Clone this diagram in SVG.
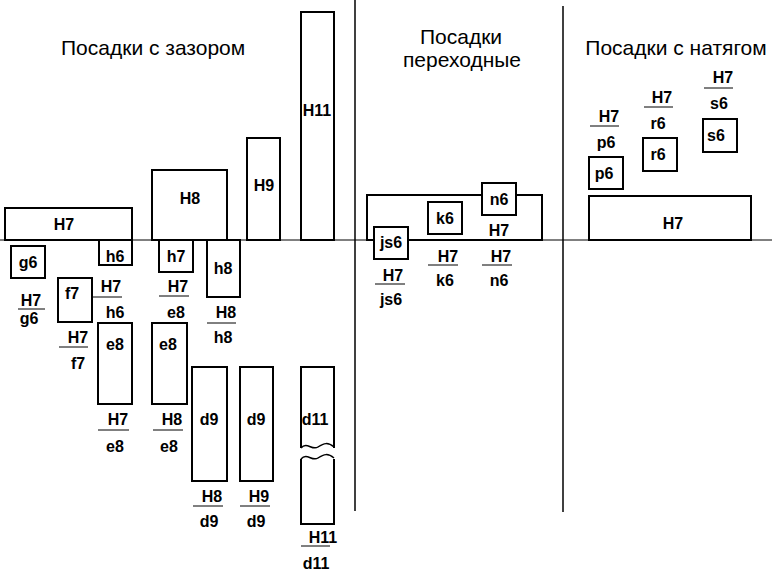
<svg xmlns="http://www.w3.org/2000/svg" width="772" height="575" viewBox="0 0 772 575">
<style>
.b{fill:#fff;stroke:#000;stroke-width:2}
.t{font-family:"Liberation Sans",Arial,sans-serif;font-size:16px;font-weight:bold;text-anchor:middle;fill:#000}
.h{font-family:"Liberation Sans",Arial,sans-serif;font-size:21px;fill:#000}
.f{stroke:#000;stroke-width:1}
.ax{stroke:#000;stroke-width:1}
.sep{stroke:#000;stroke-width:1.5}
.w{fill:none;stroke:#000;stroke-width:1.5}
</style>
<rect width="772" height="575" fill="#fff"/>
<g id="axes">
<line class="ax" x1="0" y1="240" x2="772" y2="240"/>
<line class="sep" x1="355" y1="0" x2="355" y2="511"/>
<line class="sep" x1="563" y1="6" x2="563" y2="512"/>
</g>
<g id="titles">
<text class="h" x="61" y="55">Посадки с зазором</text>
<text class="h" x="461" y="44" text-anchor="middle">Посадки</text>
<text class="h" x="462" y="67" text-anchor="middle">переходные</text>
<text class="h" x="676" y="55" text-anchor="middle">Посадки с натягом</text>
</g>
<!-- clearance fits -->
<g id="H7-left"><rect class="b" x="5" y="208" width="127" height="32"/><text class="t" x="64" y="230">H7</text></g>
<g id="H8-left"><rect class="b" x="152" y="170" width="75" height="70"/><text class="t" x="190" y="204">H8</text></g>
<g id="H9"><rect class="b" x="247" y="138" width="33" height="102"/><text class="t" x="264" y="191">H9</text></g>
<g id="H11"><rect class="b" x="301" y="12" width="33" height="228"/><text class="t" x="317" y="116">H11</text></g>
<g id="g6"><rect class="b" x="11" y="246" width="34" height="32"/><text class="t" x="28" y="268">g6</text></g>
<g id="h6"><rect class="b" x="99" y="240" width="33" height="25"/><text class="t" x="115" y="262">h6</text></g>
<g id="h7"><rect class="b" x="159" y="240" width="34" height="32"/><text class="t" x="176" y="262">h7</text></g>
<g id="h8"><rect class="b" x="207" y="240" width="33" height="57"/><text class="t" x="223" y="274">h8</text></g>
<g id="f7"><rect class="b" x="58" y="278" width="34" height="44"/><text class="t" x="72" y="299">f7</text></g>
<g id="e8-1"><rect class="b" x="98" y="323" width="34" height="81"/><text class="t" x="115" y="350">e8</text></g>
<g id="e8-2"><rect class="b" x="152" y="323" width="35" height="81"/><text class="t" x="168" y="350">e8</text></g>
<g id="d9-1"><rect class="b" x="192" y="367" width="35" height="114"/><text class="t" x="209" y="425">d9</text></g>
<g id="d9-2"><rect class="b" x="240" y="367" width="33" height="114"/><text class="t" x="256" y="425">d9</text></g>
<g id="d11">
<path class="b" d="M301,448 V367 H334 V448"/>
<path class="w" d="M301,448 C307,441 312,451 318,447 S328,442 334,447"/>
<path class="b" d="M301,459 V524 H334 V459"/>
<path class="w" d="M301,459 C307,452 312,462 318,458 S328,453 334,458"/>
<text class="t" x="315" y="425">d11</text>
</g>
<!-- fractions -->
<g id="fit-H7-g6"><text class="t" x="31" y="306">H7</text><line class="f" x1="18" y1="309" x2="45" y2="309"/><text class="t" x="29" y="324">g6</text></g>
<g id="fit-H7-h6"><text class="t" x="111" y="292">H7</text><line class="f" x1="92" y1="297" x2="122" y2="297"/><text class="t" x="115" y="318">h6</text></g>
<g id="fit-H7-f7"><text class="t" x="78" y="343">H7</text><line class="f" x1="59" y1="347" x2="88" y2="347"/><text class="t" x="78" y="369">f7</text></g>
<g id="fit-H7-e8-a"><text class="t" x="178" y="292">H7</text><line class="f" x1="159" y1="296" x2="189" y2="296"/><text class="t" x="176" y="318">e8</text></g>
<g id="fit-H8-h8"><text class="t" x="226" y="318">H8</text><line class="f" x1="207" y1="323" x2="236" y2="323"/><text class="t" x="223" y="343">h8</text></g>
<g id="fit-H7-e8"><text class="t" x="118" y="425">H7</text><line class="f" x1="98" y1="430" x2="129" y2="430"/><text class="t" x="115" y="452">e8</text></g>
<g id="fit-H8-e8"><text class="t" x="172" y="425">H8</text><line class="f" x1="153" y1="430" x2="183" y2="430"/><text class="t" x="169" y="452">e8</text></g>
<g id="fit-H8-d9"><text class="t" x="212" y="502">H8</text><line class="f" x1="193" y1="506" x2="223" y2="506"/><text class="t" x="209" y="527">d9</text></g>
<g id="fit-H9-d9"><text class="t" x="259" y="502">H9</text><line class="f" x1="240" y1="506" x2="270" y2="506"/><text class="t" x="256" y="527">d9</text></g>
<g id="fit-H11-d11"><text class="t" x="323" y="543">H11</text><line class="f" x1="301" y1="546" x2="330" y2="546"/><text class="t" x="316" y="569">d11</text></g>
<!-- transition fits -->
<g id="H7-mid"><rect class="b" x="367" y="195" width="175" height="45"/><text class="t" x="499" y="236">H7</text></g>
<g id="js6"><rect class="b" x="374" y="227" width="34" height="32"/><text class="t" x="391" y="248">js6</text></g>
<g id="k6"><rect class="b" x="428" y="202" width="34" height="32"/><text class="t" x="445" y="224">k6</text></g>
<g id="n6"><rect class="b" x="482" y="183" width="34" height="32"/><text class="t" x="499" y="205">n6</text></g>
<g id="fit-H7-js6"><text class="t" x="393" y="281">H7</text><line class="f" x1="375" y1="284" x2="405" y2="284"/><text class="t" x="391" y="305">js6</text></g>
<g id="fit-H7-k6"><text class="t" x="448" y="262">H7</text><line class="f" x1="428" y1="265" x2="458" y2="265"/><text class="t" x="445" y="286">k6</text></g>
<g id="fit-H7-n6"><text class="t" x="501" y="262">H7</text><line class="f" x1="482" y1="265" x2="512" y2="265"/><text class="t" x="499" y="286">n6</text></g>
<!-- interference fits -->
<g id="H7-right"><rect class="b" x="589" y="196" width="162" height="44"/><text class="t" x="673" y="229">H7</text></g>
<g id="p6"><rect class="b" x="589" y="157" width="34" height="32"/><text class="t" x="604" y="179">p6</text></g>
<g id="r6"><rect class="b" x="643" y="138" width="34" height="33"/><text class="t" x="658" y="160">r6</text></g>
<g id="s6"><rect class="b" x="703" y="119" width="34" height="33"/><text class="t" x="716" y="141">s6</text></g>
<g id="fit-H7-p6"><text class="t" x="609" y="122">H7</text><line class="f" x1="590" y1="126" x2="619" y2="126"/><text class="t" x="606" y="148">p6</text></g>
<g id="fit-H7-r6"><text class="t" x="662" y="103">H7</text><line class="f" x1="644" y1="107" x2="673" y2="107"/><text class="t" x="658" y="129">r6</text></g>
<g id="fit-H7-s6"><text class="t" x="723" y="83">H7</text><line class="f" x1="704" y1="88" x2="733" y2="88"/><text class="t" x="719" y="109">s6</text></g>
</svg>
